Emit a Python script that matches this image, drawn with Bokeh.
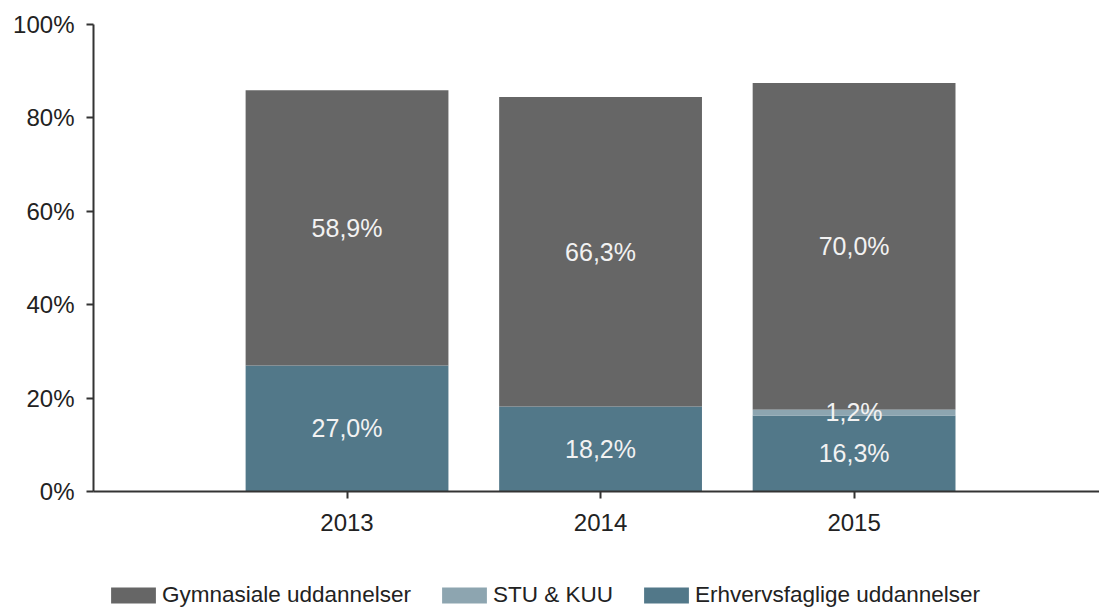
from bokeh.plotting import figure
from bokeh.layouts import column
from bokeh.models import ColumnDataSource, Range1d, FixedTicker, Legend, LegendItem, LabelSet
from bokeh.core.properties import value
from bokeh.embed import file_html
from bokeh.resources import INLINE

years = ["2013", "2014", "2015"]
erhverv = [27.0, 18.2, 16.3]
stu = [0.0, 0.0, 1.2]
gymn = [58.9, 66.3, 70.0]
series_names = ["Gymnasiale uddannelser", "STU & KUU", "Erhvervsfaglige uddannelser"]
y_ticks = [0, 20, 40, 60, 80, 100]
y_labels = ["0%", "20%", "40%", "60%", "80%", "100%"]

xpos = [i + 1 for i in range(len(years))]
b0 = [0.0] * 3
t0 = [e for e in erhverv]
t1 = [t0[i] + stu[i] for i in range(3)]
t2 = [t1[i] + gymn[i] for i in range(3)]

fmt = lambda v: ("%.1f" % v).replace(".", ",") + "%"

src = ColumnDataSource(dict(
    x=xpos, b0=b0, t0=t0, t1=t1, t2=t2,
    ye=[t0[i] / 2 for i in range(3)],
    yg=[t1[i] + gymn[i] / 2 for i in range(3)],
    le=[fmt(v) for v in erhverv],
    lg=[fmt(v) for v in gymn],
))

c_g = "#666666"
c_s = "#8DA5B0"
c_e = "#527889"

p = figure(width=1099, height=575, output_backend="svg", toolbar_location=None,
           x_range=Range1d(0, 3.968), y_range=Range1d(0, 100),
           min_border_left=93, min_border_right=0, min_border_top=24, min_border_bottom=84)
p.outline_line_color = None
p.xgrid.visible = False
p.ygrid.visible = False

def add_bars(fig):
    r_e = fig.vbar(x="x", bottom="b0", top="t0", width=0.8, source=src, fill_color=c_e, line_color=None)
    r_g = fig.vbar(x="x", bottom="t1", top="t2", width=0.8, source=src, fill_color=c_g, line_color=None)
    r_s = fig.vbar(x="x", bottom="t0", top="t1", width=0.8, source=src, fill_color=c_s, line_color=None)
    return r_g, r_s, r_e

add_bars(p)

stu_src = ColumnDataSource(dict(
    x=[xpos[i] for i in range(3) if stu[i] > 0],
    y=[t0[i] + stu[i] / 2 + 0.2 for i in range(3) if stu[i] > 0],
    l=[fmt(stu[i]) for i in range(3) if stu[i] > 0],
))

lab_kw = dict(text_color="#F2F2F2", text_font=value("Liberation Sans"), text_font_size="25px",
              text_align="center", text_baseline="middle")
p.add_layout(LabelSet(x="x", y="ye", text="le", source=src, **lab_kw))
p.add_layout(LabelSet(x="x", y="yg", text="lg", source=src, **lab_kw))
p.add_layout(LabelSet(x="x", y="y", text="l", source=stu_src, **lab_kw))

for ax in (p.xaxis[0], p.yaxis[0]):
    ax.axis_line_color = "#333333"
    ax.axis_line_width = 2
    ax.major_tick_line_color = "#333333"
    ax.major_tick_line_width = 2
    ax.major_tick_in = 0
    ax.major_tick_out = 7
    ax.minor_tick_line_color = None
    ax.major_label_text_font = "Liberation Sans"
    ax.major_label_text_font_size = "24px"
    ax.major_label_text_color = "#222222"

p.yaxis.ticker = FixedTicker(ticks=y_ticks)
p.yaxis.major_label_overrides = {t: l for t, l in zip(y_ticks, y_labels)}
p.yaxis.major_label_standoff = 12
p.xaxis.ticker = FixedTicker(ticks=xpos)
p.xaxis.major_label_overrides = {x: y for x, y in zip(xpos, years)}
p.xaxis.major_label_standoff = 15

# legend strip below the chart (bars drawn out of view, only used as legend glyphs)
lf = figure(width=1099, height=33, output_backend="svg", toolbar_location=None,
            x_range=Range1d(0, 1), y_range=Range1d(1000, 1001),
            x_axis_location=None, y_axis_location=None,
            min_border_left=0, min_border_right=0, min_border_top=0, min_border_bottom=0)
lf.outline_line_color = None
lf.xgrid.visible = False
lf.ygrid.visible = False
lg_g, lg_s, lg_e = add_bars(lf)

legend = Legend(items=[
    LegendItem(label=series_names[0], renderers=[lg_g]),
    LegendItem(label=series_names[1], renderers=[lg_s]),
    LegendItem(label=series_names[2], renderers=[lg_e]),
], orientation="horizontal", location=(12, 0))
legend.glyph_width = 56
legend.glyph_height = 20
legend.label_text_font = "Liberation Sans"
legend.label_text_font_size = "22.5px"
legend.label_text_color = "#222222"
legend.label_standoff = 1
legend.spacing = 25
legend.padding = 0
legend.margin = 0
legend.border_line_color = None
legend.background_fill_alpha = 0
legend.label_height = 20
lf.add_layout(legend, "center")

layout = column(p, lf, spacing=0)
open("out.html", "w").write(file_html(layout, INLINE))
